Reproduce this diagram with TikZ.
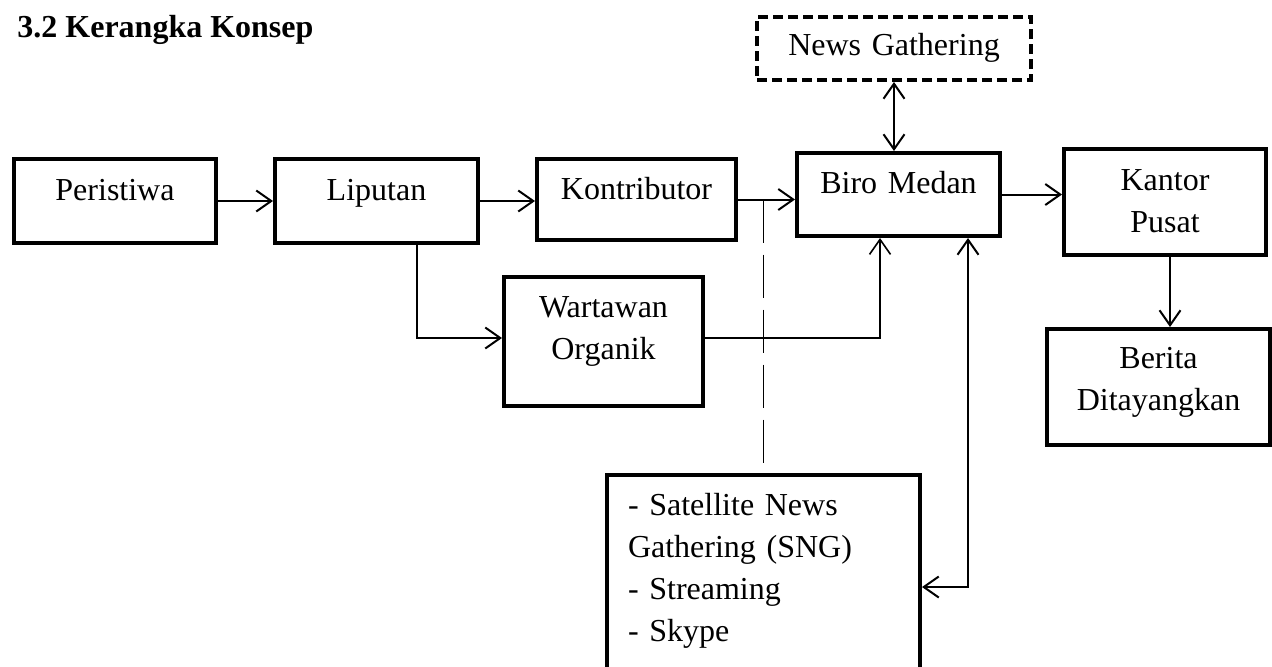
\documentclass[tikz,border=0pt]{standalone}
\usepackage{fontspec}
\setmainfont{Liberation Serif}
\usetikzlibrary{arrows.meta}

\begin{document}
\begin{tikzpicture}[x=0.5pt, y=-0.5pt, >={Straight Barb[length=7.5pt,width=10.5pt]}]
\tikzstyle{every node} = [font=\fontsize{16}{21}\selectfont]
\tikzstyle{box} = [draw, line width=2pt, inner sep=0pt, anchor=north west, align=center, text height=20.5pt, text depth=21.5pt]
\tikzstyle{link} = [line width=1pt]
\useasboundingbox (0,0) rectangle (1272,666);
\node[anchor=base west, inner sep=0pt, font=\fontsize{16}{21}\selectfont\bfseries] (title) at (17,37) {3.2 Kerangka Konsep};
\node[box, text width=101pt] (peristiwa) at (12,157) {Peristiwa};
\node[box, text width=101.5pt] (liputan) at (273,157) {Liputan};
\node[box, text width=99.5pt, text height=20pt, text depth=20.5pt] (kontributor) at (535,157) {Kontributor};
\node[box, text width=101.5pt, text height=20pt] (biro) at (795,151) {Biro Medan};
\node[box, text width=101pt, text depth=32.5pt] (kantor) at (1062,147) {Kantor\\Pusat};
\node[box, text width=111.5pt, text height=19.5pt, text depth=38.5pt] (berita) at (1045,327) {Berita\\Ditayangkan};
\node[box, text width=99.5pt, text height=20pt, text depth=44.5pt] (wartawan) at (502,275) {Wartawan\\Organik};
\node[box, align=left, inner xsep=10.5pt, text width=135.5pt, text height=20pt, text depth=101.5pt] (sng) at (605,473) {- Satellite News\\Gathering (SNG)\\- Streaming\\- Skype};
\node[box, dash pattern=on 5pt off 2.5pt, text width=137pt, text height=19pt, text depth=12.5pt] (news) at (755,15) {News Gathering};
\foreach \from/\to in {peristiwa/liputan, liputan/kontributor, kontributor/biro, biro/kantor}
\draw [link, ->] (\from.east) -- (\from.east -| \to.west);
\draw [link, ->] ([xshift=2.5pt]kantor.south) -- ([xshift=2.5pt]kantor.south |- berita.north);
\draw [link, <->] (news.south) -- (news.south |- biro.north);
\draw [link, ->] ([xshift=20pt]liputan.south) |- ([yshift=1.75pt]wartawan.west);
\draw [line width=0.8pt, ->] ([yshift=1.75pt]wartawan.east) -| ([xshift=-9.25pt]biro.south);
\draw [link, <->] ([xshift=34.75pt]biro.south) |- ([yshift=-57pt]sng.north east);
\draw [line width=0.75pt, dash pattern=on 21.5pt off 6pt] (sng.north |- kontributor.east) -- (sng.north);
\end{tikzpicture}
\end{document}
